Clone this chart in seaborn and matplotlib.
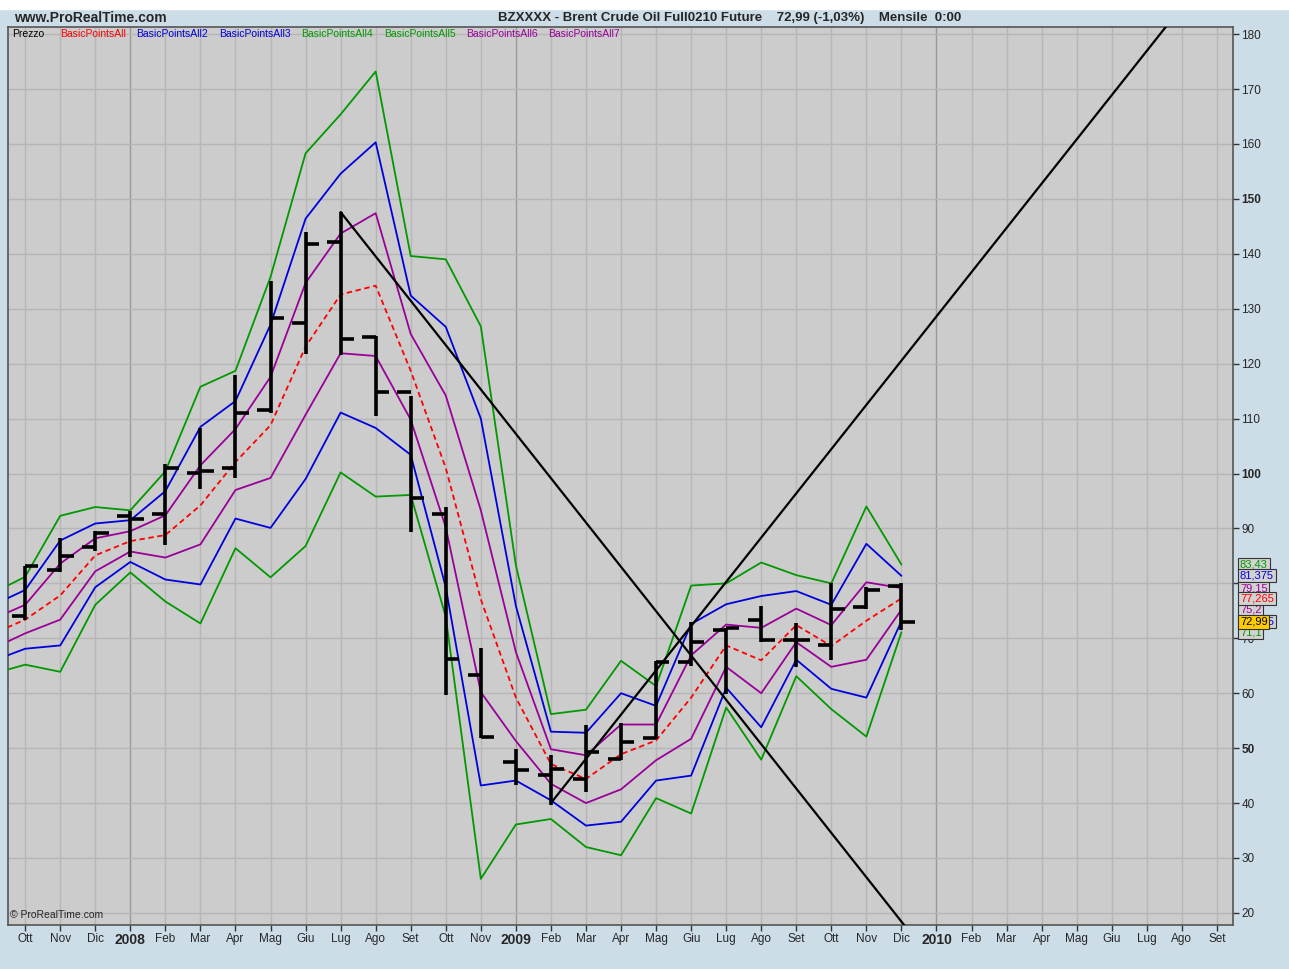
import numpy as np
import pandas as pd
import seaborn as sns
import matplotlib.pyplot as plt
from matplotlib.transforms import blended_transform_factory

sns.set_style("ticks")
plt.rcParams['font.family'] = ['Liberation Sans', 'DejaVu Sans']

# mesi sull'asse x (indice 0 = ottobre 2007)
mesi = ["Ott", "Nov", "Dic", "2008", "Feb", "Mar", "Apr", "Mag", "Giu", "Lug", "Ago", "Set",
        "Ott", "Nov", "2009", "Feb", "Mar", "Apr", "Mag", "Giu", "Lug", "Ago", "Set",
        "Ott", "Nov", "Dic", "2010", "Feb", "Mar", "Apr", "Mag", "Giu", "Lug", "Ago", "Set"]
anni = ["2008", "2009", "2010"]

# barre OHLC mensili (ott 2007 - dic 2009)
apertura = [74.1, 82.4, 86.7, 92.3, 92.6, 100.1, 101.0, 111.6, 127.4, 142.1, 124.9, 114.8, 92.6,
            63.3, 47.5, 45.2, 44.4, 48.0, 51.8, 65.7, 71.6, 73.3, 69.7, 68.8, 75.7, 79.6]
massimo = [83.2, 88.3, 89.6, 93.2, 101.7, 108.3, 117.9, 135.1, 144.0, 147.6, 125.1, 114.1, 93.9,
           68.2, 49.8, 48.8, 54.2, 54.5, 65.9, 73.0, 71.8, 75.9, 72.7, 80.1, 79.4, 80.0]
minimo = [73.3, 82.1, 85.9, 84.8, 87.0, 97.2, 99.2, 111.0, 121.7, 121.6, 110.5, 89.3, 59.7,
          51.9, 43.3, 39.7, 42.0, 47.8, 51.7, 65.0, 59.9, 69.4, 64.7, 66.0, 75.3, 71.5]
chiusura = [83.2, 85.0, 89.2, 91.8, 101.0, 100.4, 111.0, 128.3, 141.8, 124.5, 114.8, 95.5, 66.3,
            52.1, 46.1, 46.2, 49.3, 51.1, 65.6, 69.3, 71.8, 69.7, 69.6, 75.4, 78.8, 72.99]

# indicatori BasicPoints (indice -1 = settembre 2007)
bp_all = [70.6, 73.4, 77.8, 85.1, 87.7, 88.8, 94.2, 102.1, 108.8, 123.1, 132.6, 134.2, 118.7, 101.0,
          77.1, 59.2, 47.1, 44.4, 48.9, 51.4, 59.2, 68.7, 66.0, 72.4, 68.6, 73.2, 77.265]
bp_all2 = [75.8, 78.8, 87.8, 90.9, 91.5, 96.8, 108.5, 113.2, 127.1, 146.4, 154.6, 160.3, 132.4, 126.7,
           110.0, 75.9, 53.0, 52.8, 60.0, 57.7, 72.6, 76.2, 77.7, 78.6, 76.1, 87.2, 81.375]
bp_all3 = [65.7, 68.1, 68.7, 79.3, 83.9, 80.7, 79.8, 91.8, 90.1, 99.0, 111.1, 108.3, 103.4, 79.3,
           43.2, 44.1, 40.5, 35.9, 36.6, 44.1, 45.0, 61.0, 53.8, 66.1, 60.8, 59.2, 73.1]
bp_all4 = [78.0, 81.2, 92.3, 93.9, 93.3, 100.4, 115.8, 118.7, 135.8, 158.3, 165.4, 173.2, 139.6, 139.0,
           126.8, 83.3, 56.2, 57.0, 65.9, 61.3, 79.6, 80.0, 83.8, 81.5, 80.0, 94.0, 83.43]
bp_all5 = [63.4, 65.2, 63.9, 76.1, 82.0, 76.7, 72.7, 86.4, 81.1, 86.8, 100.2, 95.8, 96.1, 73.9,
           26.2, 36.1, 37.1, 32.0, 30.5, 40.9, 38.1, 57.4, 47.9, 63.1, 57.1, 52.1, 71.1]
bp_all6 = [73.3, 76.1, 83.6, 88.2, 89.5, 92.4, 101.5, 108.1, 117.6, 134.7, 143.7, 147.4, 125.4, 114.2,
           93.3, 67.5, 49.8, 48.7, 54.3, 54.3, 66.9, 72.5, 71.9, 75.4, 72.4, 80.2, 79.15]
bp_all7 = [67.9, 70.9, 73.4, 82.2, 85.8, 84.7, 87.1, 97.0, 99.2, 110.7, 121.9, 121.4, 109.8, 90.2,
           60.2, 51.3, 43.5, 40.0, 42.5, 47.8, 51.7, 64.8, 60.0, 69.3, 64.8, 66.1, 75.2]

# linee di tendenza disegnate a mano (indice mese, prezzo)
trend_giu_x = [9, 25.3]
trend_giu_y = [147.6, 16.0]
trend_su_x = [15, 33]
trend_su_y = [40.0, 185.0]

nomi = ["BasicPointsAll", "BasicPointsAll2", "BasicPointsAll3", "BasicPointsAll4",
        "BasicPointsAll5", "BasicPointsAll6", "BasicPointsAll7"]
serie = [bp_all, bp_all2, bp_all3, bp_all4, bp_all5, bp_all6, bp_all7]
colori = ["#ff0000", "#0000dd", "#0000dd", "#009900", "#009900", "#990099", "#990099"]

W, H = 1289, 969
fig = plt.figure(figsize=(W / 100, H / 100), dpi=100, facecolor="#cddde8")
ax = fig.add_axes([8 / W, 1 - 925 / H, (1233 - 8) / W, (925 - 27) / H])
ax.set_facecolor("#cccccc")

# striscia bianca in alto
fig.patches.append(plt.Rectangle((0, 1 - 9 / H), 1, 9 / H, transform=fig.transFigure,
                                 color="white", zorder=0))

# griglia
for i in range(len(mesi)):
    c = "#9a9a9a" if mesi[i] in anni else "#b6b6b6"
    ax.axvline(i, color=c, lw=1, zorder=0)
for v in range(20, 190, 10):
    ax.axhline(v, color="#b6b6b6", lw=1, zorder=0)

# indicatori
for nome, s, col in zip(nomi, serie, colori):
    df = pd.DataFrame({"mese": np.arange(-1, len(s) - 1), "valore": s})
    sns.lineplot(data=df, x="mese", y="valore", color=col, lw=1.3, ax=ax,
                 linestyle="--" if nome == "BasicPointsAll" else "-", sort=False, zorder=3)
ax.lines[-7].set_dashes([3, 2])

# linee di tendenza
ax.plot(trend_giu_x, trend_giu_y, color="black", lw=1.6, zorder=4)
ax.plot(trend_su_x, trend_su_y, color="black", lw=1.6, zorder=4)

# barre OHLC
xb = np.arange(len(apertura))
ax.vlines(xb, minimo, massimo, color="black", lw=2.6, zorder=5)
ax.hlines(apertura, xb - 0.38, xb, color="black", lw=2.6, zorder=5)
ax.hlines(chiusura, xb, xb + 0.38, color="black", lw=2.6, zorder=5)

ax.set_xlim(-0.49, 34.46)
ax.set_ylim(17.8, 181.3)
ax.set_xlabel("")
ax.set_ylabel("")

ax.yaxis.tick_right()
ax.set_yticks(range(20, 190, 10))
ax.set_yticklabels([str(v) for v in range(20, 190, 10)], fontsize=8.5)
for lab in ax.get_yticklabels():
    if lab.get_text() in ("50", "100", "150"):
        lab.set_fontweight("bold")
ax.set_xticks(range(len(mesi)))
ax.set_xticklabels(mesi, fontsize=8.5)
for lab in ax.get_xticklabels():
    if lab.get_text() in anni:
        lab.set_fontweight("bold")
        lab.set_fontsize(10)
ax.tick_params(axis="both", length=4, width=1, color="#333333", pad=2)
for sp in ax.spines.values():
    sp.set_color("#555555")
    sp.set_linewidth(1.2)

# etichette dei valori a destra
tr = blended_transform_factory(ax.transAxes, ax.transData)
ultimi = [(bp_all5[-1], "71,1", "#009900"), (bp_all3[-1], "73,125", "#0000dd"),
          (bp_all7[-1], "75,2", "#990099"), (bp_all6[-1], "79,15", "#990099"),
          (bp_all[-1], "77,265", "#ff0000"), (bp_all4[-1], "83,43", "#009900"),
          (bp_all2[-1], "81,375", "#0000dd")]
for v, t, c in ultimi:
    ax.text(1.0057, v, t, transform=tr, color=c, fontsize=8, va="center", ha="left",
            clip_on=False, zorder=6,
            bbox=dict(boxstyle="square,pad=0.15", fc="#d2d2d2", ec="#333333", lw=0.8))
ax.text(1.0057, chiusura[-1], "72,99", transform=tr, color="black", fontsize=8, va="center",
        ha="left", clip_on=False, zorder=7,
        bbox=dict(boxstyle="square,pad=0.15", fc="#ffcc00", ec="#333333", lw=0.8))

# intestazione
fig.text(14 / W, 1 - 18 / H, "www.ProRealTime.com", fontsize=10, fontweight="bold", va="center")
fig.text(498 / W, 1 - 18 / H,
         "BZXXXX - Brent Crude Oil Full0210 Future    72,99 (-1,03%)    Mensile  0:00",
         fontsize=9.5, fontweight="bold", va="center")

# legenda
fig.text(12 / W, 1 - 34 / H, "Prezzo", fontsize=7.5, color="black", va="center")
pos_leg = [60, 136, 219, 301, 384, 466, 548]
for xp, nome, col in zip(pos_leg, nomi, colori):
    fig.text(xp / W, 1 - 34 / H, nome, fontsize=7.5, color=col, va="center")

fig.text(10 / W, 1 - 915 / H, "© ProRealTime.com", fontsize=7.5, va="center")

plt.savefig("out.png", dpi=100, facecolor=fig.get_facecolor())
